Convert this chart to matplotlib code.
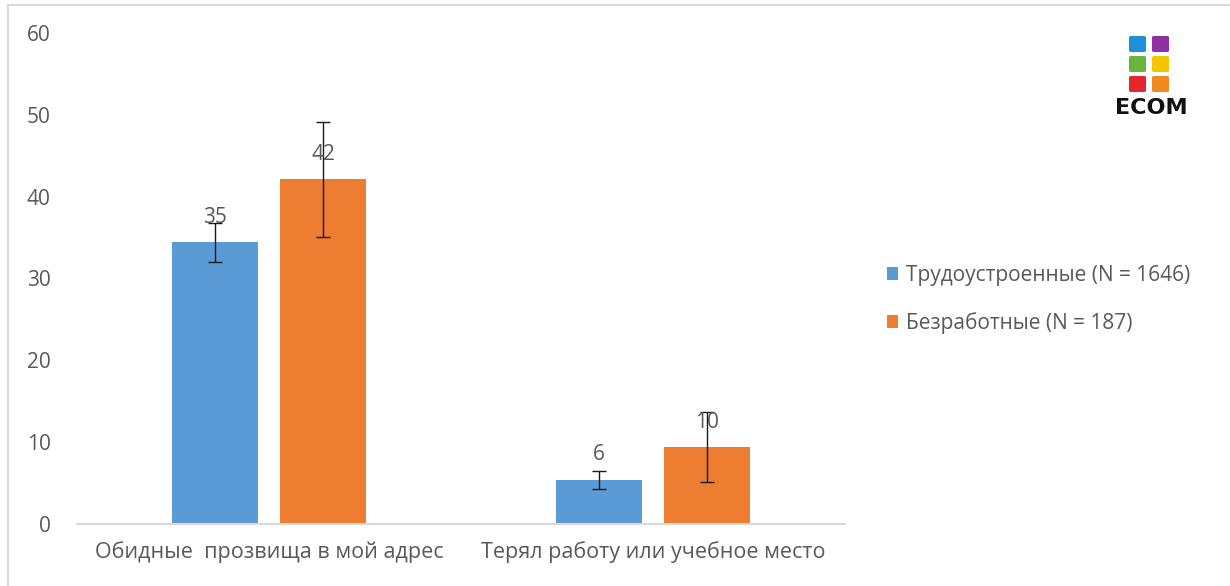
import numpy as np
import matplotlib.pyplot as plt
from matplotlib.patches import FancyBboxPatch
from matplotlib.lines import Line2D

plt.rcParams['font.family'] = ['Open Sans', 'DejaVu Sans']

categories = ['Обидные  прозвища в мой адрес', 'Терял работу или учебное место']
series_names = ['Трудоустроенные (N = 1646)', 'Безработные (N = 187)']
employed = [34.4, 5.4]
unemployed = [42.1, 9.4]
employed_err = [2.4, 1.1]
unemployed_err = [7.0, 4.3]
employed_labels = ['35', '6']
unemployed_labels = ['42', '10']

colors = ['#5b9bd5', '#ed7d31']
text_color = '#595959'

W, H = 1230, 586
fig = plt.figure(figsize=(W / 100, H / 100), dpi=100)
ax = fig.add_axes([77 / W, 1 - 524 / H, (845 - 77) / W, (524 - 33) / H])

x = np.arange(len(categories))
width = 0.223
offset = 0.1405

series = [(employed, employed_err, employed_labels), (unemployed, unemployed_err, unemployed_labels)]
for i, (vals, errs, labels) in enumerate(series):
    pos = x + (-offset if i == 0 else offset)
    ax.bar(pos, vals, width, color=colors[i], label=series_names[i], zorder=2)
    ax.errorbar(pos, vals, yerr=errs, fmt='none', ecolor='#1a1a1a', elinewidth=1.0,
                capsize=5, capthick=1.0, zorder=3)
    for p, v, lab in zip(pos, vals, labels):
        ax.annotate(lab, (p, v), xytext=(0, 18), textcoords='offset points',
                    ha='center', va='center', fontsize=15, color=text_color, zorder=4)

ax.set_xlim(-0.5, 1.5)
ax.set_ylim(0, 60)
ax.set_yticks(range(0, 61, 10))
ax.set_xticks(x)
ax.set_xticklabels(categories, fontsize=15.5, color=text_color)
ax.tick_params(axis='y', length=0, labelsize=15, labelcolor=text_color, pad=19)
ax.tick_params(axis='x', length=0, pad=12)
for s in ['top', 'right', 'left']:
    ax.spines[s].set_visible(False)
ax.spines['bottom'].set_color('#d9d9d9')
ax.spines['bottom'].set_linewidth(1.5)

leg = fig.legend(loc='upper left', bbox_to_anchor=(868 / W, 1 - 246 / H), frameon=False,
                 fontsize=15, handlelength=0.55, handleheight=0.55, handletextpad=0.35,
                 labelspacing=1.25, labelcolor=text_color)

# outer frame (left and top edges only)
fig.add_artist(Line2D([8 / W, 8 / W], [0, 1 - 5 / H], transform=fig.transFigure,
                      color='#d9d9d9', linewidth=1.5))
fig.add_artist(Line2D([8 / W, 1], [1 - 5 / H, 1 - 5 / H], transform=fig.transFigure,
                      color='#d9d9d9', linewidth=1.5))

# ECOM logo
logo_colors = [['#1f8fd6', '#8e2fa3'], ['#6ab43e', '#f5c400'], ['#e3262f', '#f28a1e']]
for r, row in enumerate(logo_colors):
    for c, col in enumerate(row):
        x0 = (1129 + c * 23) / W
        y0 = 1 - (52 + r * 20) / H
        fig.add_artist(FancyBboxPatch((x0, y0), 17 / W, 16 / H, transform=fig.transFigure,
                                      boxstyle='round,pad=0,rounding_size=0.002',
                                      facecolor=col, edgecolor='none'))
fig.text(1151 / W, 1 - 108 / H, 'ECOM', ha='center', va='center', fontsize=16,
         fontweight='bold', color='#111111', family=['DejaVu Sans'])

fig.savefig('out.png', dpi=100)
